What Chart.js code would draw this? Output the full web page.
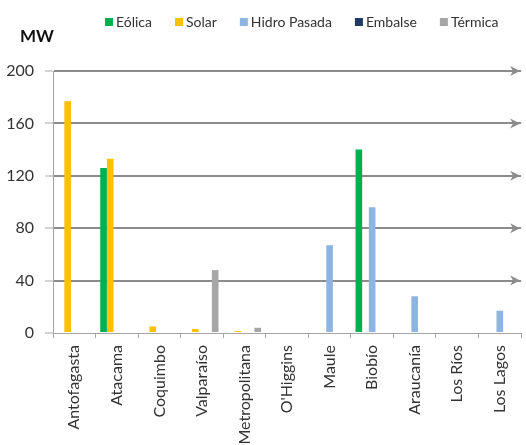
<!DOCTYPE html>
<html lang="es">
<head>
<meta charset="UTF-8">
<title>Capacidad por región</title>
<style>
  html, body { margin: 0; padding: 0; background: #fff; }
  #wrap { width: 526px; height: 445px; position: relative; }
</style>
</head>
<body>
<div id="wrap"><canvas id="grafico"></canvas></div>
<script src="https://cdn.jsdelivr.net/npm/chart.js@4"></script>
<script>
// Regiones y MW por tecnología
const regiones = ['Antofagasta', 'Atacama', 'Coquimbo', 'Valparaíso', 'Metropolitana', "O'Higgins", 'Maule', 'Biobío', 'Araucanía', 'Los Ríos', 'Los Lagos'];
const eolica   = [0, 126, 0, 0, 0, 0, 0, 140, 0, 0, 0];
const solar    = [177, 133, 5, 3, 1.5, 0, 0, 0, 0, 0, 0];
const hidro    = [0, 0, 0, 0, 0, 0, 67, 96, 28, 0, 17];
const embalse  = [0, 0, 0, 0, 0, 0, 0, 0, 0, 0, 0];
const termica  = [0, 0, 0, 48, 4, 0, 0, 0, 0, 0, 0];
const ticksY   = [0, 40, 80, 120, 160, 200];

const FUENTE = 'Lato, "Open Sans", sans-serif';
const TEXTO = '#333333';

// leyenda propia + título "MW" + flechas en las líneas de grilla
const adornos = {
  id: 'adornos',
  afterDraw(chart) {
    const ctx = chart.ctx;
    const area = chart.chartArea;
    const y = chart.scales.y;
    ctx.save();
    // flechas
    ctx.fillStyle = '#8c8c8c';
    ticksY.forEach(v => {
      if (v === 0) return;
      const py = y.getPixelForValue(v);
      const r = area.right - 1;
      ctx.beginPath();
      ctx.moveTo(r, py);
      ctx.lineTo(r - 10, py - 5);
      ctx.lineTo(r - 7, py);
      ctx.lineTo(r - 10, py + 5);
      ctx.closePath();
      ctx.fill();
    });
    // MW
    ctx.fillStyle = '#111';
    ctx.font = 'bold 17px ' + FUENTE;
    ctx.textBaseline = 'middle';
    ctx.textAlign = 'left';
    ctx.fillText('MW', 20, 37);
    // leyenda
    ctx.font = '14px ' + FUENTE;
    let x = 105;
    chart.data.datasets.forEach(ds => {
      ctx.fillStyle = ds.backgroundColor;
      ctx.fillRect(x, 18, 8, 8);
      x += 11;
      ctx.fillStyle = TEXTO;
      ctx.fillText(ds.label, x, 22);
      x += ctx.measureText(ds.label).width + 23;
    });
    ctx.restore();
  }
};

new Chart(document.getElementById('grafico'), {
  type: 'bar',
  data: {
    labels: regiones,
    datasets: [
      { label: 'Eólica', data: eolica, backgroundColor: '#00b050' },
      { label: 'Solar', data: solar, backgroundColor: '#ffc000' },
      { label: 'Hidro Pasada', data: hidro, backgroundColor: '#8db4e2' },
      { label: 'Embalse', data: embalse, backgroundColor: '#1f3864' },
      { label: 'Térmica', data: termica, backgroundColor: '#a6a6a6' }
    ]
  },
  options: {
    responsive: true,
    maintainAspectRatio: false,
    animation: false,
    layout: { padding: { top: 71, left: 0, right: 0, bottom: 0 } },
    datasets: { bar: { categoryPercentage: 0.78, barPercentage: 1.0, borderWidth: 0 } },
    plugins: { legend: { display: false }, tooltip: { enabled: false } },
    scales: {
      x: {
        afterFit(s) { s.height = 112; },
        grid: { offset: true, drawOnChartArea: false, tickLength: 5, tickColor: '#a6a6a6' },
        border: { color: '#a6a6a6', width: 1 },
        ticks: {
          autoSkip: false, minRotation: 90, maxRotation: 90, padding: 7,
          color: TEXTO, font: { family: FUENTE, size: 16 }
        }
      },
      y: {
        min: 0, max: 200,
        afterFit(s) { s.width = 53; },
        afterBuildTicks(s) { s.ticks = ticksY.map(v => ({ value: v })); },
        grid: {
          color: ctx => ctx.tick && ctx.tick.value === 0 ? 'rgba(0,0,0,0)' : '#8c8c8c',
          lineWidth: 2,
          tickLength: 8, tickColor: '#a6a6a6', tickWidth: 1
        },
        border: { color: '#a6a6a6', width: 1 },
        ticks: { padding: 11, color: TEXTO, font: { family: FUENTE, size: 16 } }
      }
    }
  },
  plugins: [adornos]
});
</script>
</body>
</html>
